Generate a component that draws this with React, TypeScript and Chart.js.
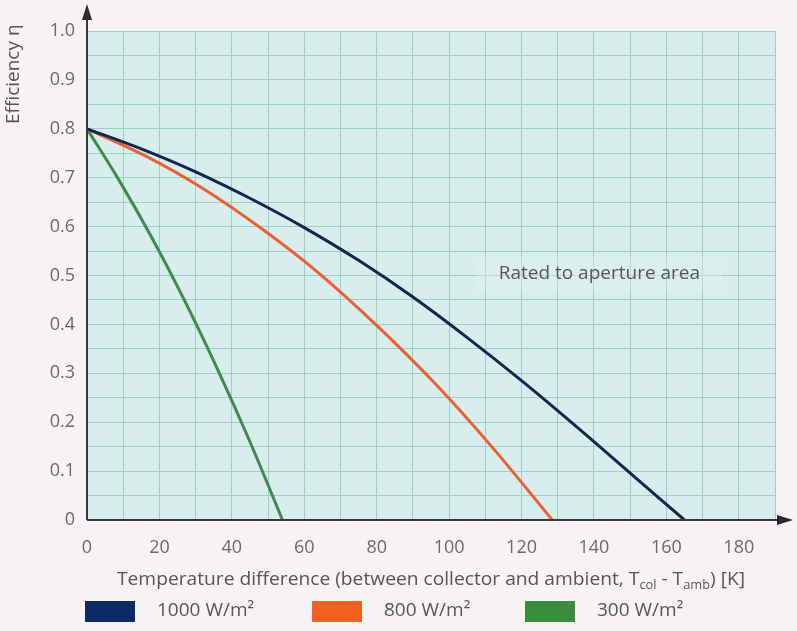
import React, { useEffect, useRef } from 'react';
import { Chart, registerables } from 'chart.js';

Chart.register(...registerables);

// Temperature difference [K] and efficiency values
const temp1000 = [0, 15, 30, 45, 60, 75, 90, 105, 120, 135, 150, 165];
const eta1000 = [0.8, 0.759, 0.712, 0.658, 0.598, 0.531, 0.456, 0.373, 0.285, 0.192, 0.096, 0];

const temp800 = [0, 16, 32, 48, 64, 80, 96, 112, 128.5];
const eta800 = [0.8, 0.745, 0.678, 0.597, 0.505, 0.398, 0.28, 0.148, 0];

const temp300 = [0, 9, 18, 27, 36, 45, 54];
const eta300 = [0.8, 0.693, 0.576, 0.448, 0.309, 0.16, 0];

const seriesLabels = ['1000 W/m²', '800 W/m²', '300 W/m²'];
const lineColors = ['#14264f', '#ea5f33', '#3f8a4c'];
const legendColors = ['#0c2a66', '#f2601f', '#3a8d3a'];

const xTickValues = [0, 20, 40, 60, 80, 100, 120, 140, 160, 180];
const yTickValues = ['0', '0.1', '0.2', '0.3', '0.4', '0.5', '0.6', '0.7', '0.8', '0.9', '1.0'];

const yTitle = 'Efficiency η';
const xTitleParts = ['Temperature difference (between collector and ambient, T', 'col', ' - T', 'amb', ') [K]'];
const noteText = 'Rated to aperture area';

const FONT = '"Open Sans", Lato, sans-serif';
const TEXT = '#555555';

const toPoints = (xs: number[], ys: number[]) => xs.map((x, i) => ({ x, y: ys[i] }));

const decorPlugin = {
  id: 'decor',
  beforeDraw(chart: any) {
    const { ctx, chartArea: a } = chart;
    ctx.save();
    ctx.fillStyle = '#f7f3f5';
    ctx.fillRect(0, 0, chart.width, chart.height);
    ctx.fillStyle = '#d8eeec';
    ctx.fillRect(a.left, a.top, a.right - a.left, a.bottom - a.top);
    ctx.restore();
  },
  beforeDatasetsDraw(chart: any) {
    const { ctx, scales } = chart;
    const x = scales.x, y = scales.y;
    ctx.save();
    ctx.font = `19px ${FONT}`;
    const w = ctx.measureText(noteText).width;
    const cx = x.getPixelForValue(141.5);
    const cy = y.getPixelForValue(0.504);
    ctx.fillStyle = 'rgba(225,241,240,0.35)';
    ctx.fillRect(cx - w / 2 - 22, cy - 17, w + 44, 34);
    ctx.fillStyle = TEXT;
    ctx.textAlign = 'center';
    ctx.textBaseline = 'middle';
    ctx.fillText(noteText, cx, cy);
    ctx.restore();
  },
  afterDraw(chart: any) {
    const { ctx, chartArea: a } = chart;
    ctx.save();
    // axes
    ctx.strokeStyle = '#3a3a3a';
    ctx.fillStyle = '#2a2a2a';
    ctx.lineWidth = 2;
    ctx.beginPath();
    ctx.moveTo(a.left, a.bottom);
    ctx.lineTo(a.left, 14);
    ctx.moveTo(a.left, a.bottom);
    ctx.lineTo(784, a.bottom);
    ctx.stroke();
    ctx.beginPath();
    ctx.moveTo(a.left, 4);
    ctx.lineTo(a.left - 5, 20);
    ctx.lineTo(a.left + 5, 20);
    ctx.closePath();
    ctx.fill();
    ctx.beginPath();
    ctx.moveTo(793, a.bottom);
    ctx.lineTo(777, a.bottom - 5);
    ctx.lineTo(777, a.bottom + 5);
    ctx.closePath();
    ctx.fill();

    // y title
    ctx.fillStyle = TEXT;
    ctx.font = `19px ${FONT}`;
    ctx.save();
    ctx.translate(14, 124);
    ctx.rotate(-Math.PI / 2);
    ctx.textAlign = 'left';
    ctx.textBaseline = 'middle';
    ctx.fillText(yTitle, 0, 0);
    ctx.restore();

    // x title with subscripts, fitted between 117 and 745
    const mainFont = `18px ${FONT}`;
    const subFont = `12px ${FONT}`;
    let total = 0;
    xTitleParts.forEach((p, i) => {
      ctx.font = i % 2 === 1 ? subFont : mainFont;
      total += ctx.measureText(p).width;
    });
    const sx = 628 / total;
    const ty = 585;
    ctx.save();
    ctx.translate(117, 0);
    ctx.scale(sx, 1);
    let tx = 0;
    ctx.textAlign = 'left';
    ctx.textBaseline = 'alphabetic';
    xTitleParts.forEach((p, i) => {
      const sub = i % 2 === 1;
      ctx.font = sub ? subFont : mainFont;
      ctx.fillText(p, tx, sub ? ty + 4 : ty);
      tx += ctx.measureText(p).width;
    });
    ctx.restore();

    // legend
    const boxX = [85, 312, 525];
    ctx.font = `19px ${FONT}`;
    ctx.textBaseline = 'middle';
    ctx.textAlign = 'left';
    seriesLabels.forEach((lab, i) => {
      ctx.fillStyle = legendColors[i];
      ctx.fillRect(boxX[i], 601, 50, 21);
      ctx.fillStyle = TEXT;
      ctx.fillText(lab, boxX[i] + 72, 611);
    });
    ctx.restore();
  },
};

export default function App() {
  const ref = useRef<HTMLCanvasElement | null>(null);
  useEffect(() => {
    if (!ref.current) return;
    const chart = new Chart(ref.current, {
      type: 'line',
      data: {
        datasets: [
          { label: seriesLabels[0], data: toPoints(temp1000, eta1000), borderColor: lineColors[0] },
          { label: seriesLabels[1], data: toPoints(temp800, eta800), borderColor: lineColors[1] },
          { label: seriesLabels[2], data: toPoints(temp300, eta300), borderColor: lineColors[2] },
        ].map((d) => ({ ...d, borderWidth: 3, pointRadius: 0, fill: false, cubicInterpolationMode: 'monotone' as const })),
      },
      options: {
        animation: false,
        responsive: false,
        maintainAspectRatio: false,
        layout: { padding: { left: 0, right: 22, top: 31, bottom: 0 } },
        plugins: { legend: { display: false }, tooltip: { enabled: false }, title: { display: false } },
        scales: {
          x: {
            type: 'linear',
            min: 0,
            max: 190,
            afterFit: (s: any) => { s.height = 111; },
            grid: { color: '#9dcfca', lineWidth: 1, drawTicks: false },
            border: { display: false },
            ticks: {
              stepSize: 10,
              autoSkip: false,
              maxRotation: 0,
              padding: 17,
              color: '#6a6a6a',
              font: { family: FONT, size: 18 },
              callback: (v: any) => (xTickValues.includes(Number(v)) ? String(v) : ''),
            },
          },
          y: {
            type: 'linear',
            min: 0,
            max: 1,
            afterFit: (s: any) => { s.width = 87; },
            grid: { color: '#9dcfca', lineWidth: 1, drawTicks: false },
            border: { display: false },
            ticks: {
              stepSize: 0.05,
              autoSkip: false,
              padding: 12,
              color: '#6a6a6a',
              font: { family: FONT, size: 18 },
              callback: (v: any) => {
                const r = Math.round(Number(v) * 100);
                return r % 10 === 0 ? yTickValues[r / 10] : '';
              },
            },
          },
        },
      },
      plugins: [decorPlugin],
    });
    return () => chart.destroy();
  }, []);
  return (
    <div style={{ position: 'absolute', left: 0, top: 0, width: 797, height: 631 }}>
      <canvas ref={ref} width={797} height={631} />
    </div>
  );
}
